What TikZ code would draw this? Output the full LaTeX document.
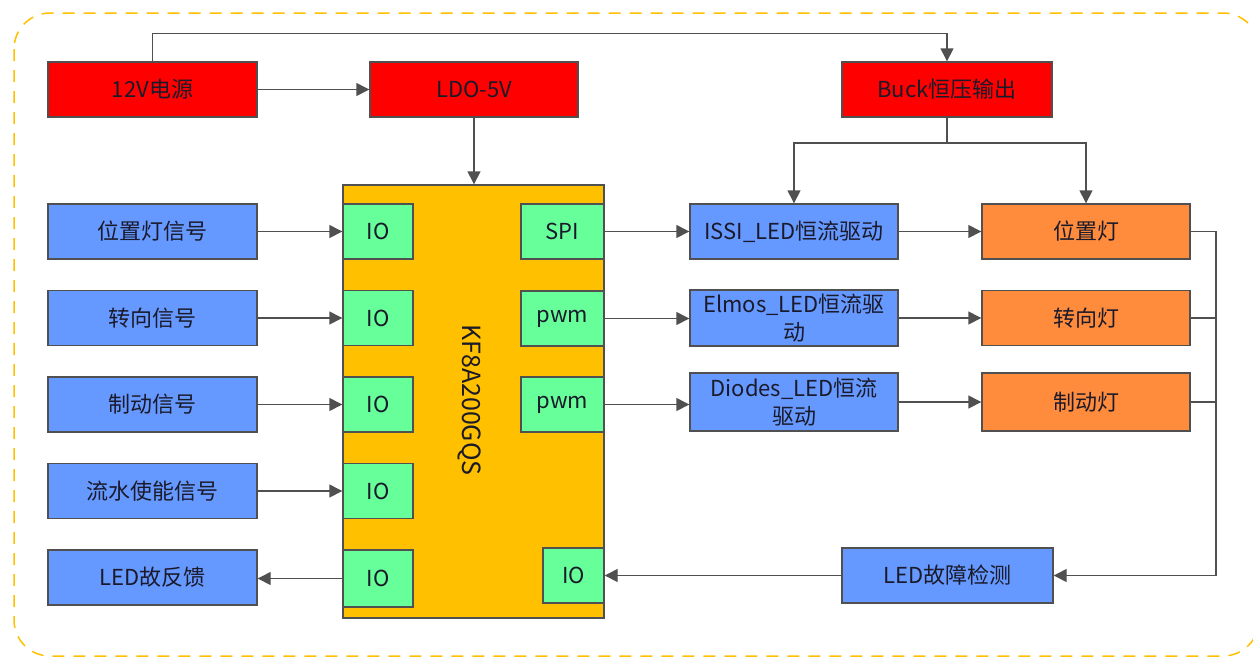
\documentclass[tikz,border=0pt]{standalone}
\usepackage{fontspec}
\setmainfont{Noto Sans CJK SC}
\usetikzlibrary{arrows.meta}
\definecolor{cred}{HTML}{FF0000}
\definecolor{cblue}{HTML}{6699FF}
\definecolor{corange}{HTML}{FF8B3D}
\definecolor{cgreen}{HTML}{66FF99}
\definecolor{cmcu}{HTML}{FFC000}
\definecolor{cline}{HTML}{505050}
\definecolor{ctext}{HTML}{1A1A2A}
\tikzset{
  box/.style={draw=cline, line width=1.4pt, inner sep=1pt, align=center, text=ctext, font=\fontsize{22}{28}\selectfont},
  redbox/.style={box, fill=cred, minimum width=209pt, minimum height=55pt},
  bluebox/.style={box, fill=cblue, minimum width=209pt, minimum height=55pt},
  orbox/.style={box, fill=corange, minimum width=208pt, minimum height=55pt},
  iobox/.style={box, fill=cgreen, minimum height=55pt},
  conn/.style={draw=cline, line width=1.4pt},
  arr/.style={conn, -{Triangle[length=13pt,width=13pt]}},
}
\begin{document}
\begin{tikzpicture}[x=1pt,y=-1pt]
\useasboundingbox (0,0) rectangle (1253,657);
\draw[cmcu, line width=1.5pt, dash pattern=on 12pt off 9pt, rounded corners=36pt] (14,13) rectangle (1259,656);

% power
\node[redbox] (v12) at (152.5,89.5) {12V电源};
\node[redbox, minimum width=208pt] (ldo) at (474,89.5) {LDO-5V};
\node[redbox, minimum width=210pt] (buck) at (947,89.5) {Buck恒压输出};

% MCU
\node[box, fill=cmcu, minimum width=261pt, minimum height=433pt] (mcu) at (473.5,401.5) {};
\node[text=ctext, font=\fontsize{25}{28}\selectfont, rotate=-90] (mcul) at (470,400) {KF8A200GQS};

% left inputs
\node[bluebox] (s1) at (152.5,231.5) {位置灯信号};
\node[bluebox] (s2) at (152.5,318) {转向信号};
\node[bluebox] (s3) at (152.5,404.5) {制动信号};
\node[bluebox] (s4) at (152.5,491) {流水使能信号};
\node[bluebox] (s5) at (152.5,577.5) {LED故反馈};

\node[iobox, minimum width=70pt] (i1) at (378,231.5) {IO};
\node[iobox, minimum width=70pt] (i2) at (378,318) {IO};
\node[iobox, minimum width=70pt] (i3) at (378,404.5) {IO};
\node[iobox, minimum width=70pt] (i4) at (378,491) {IO};
\node[iobox, minimum width=70pt, minimum height=57pt] (i5) at (378,578.5) {IO};

\node[iobox, minimum width=83pt] (o1) at (562.5,231.5) {SPI};
\node[iobox, minimum width=83pt] (o2) at (562.5,318.5) {pwm};
\node[iobox, minimum width=83pt] (o3) at (562.5,404.5) {pwm};
\node[iobox, minimum width=61pt] (o4) at (573.5,575.5) {IO};

% drivers
\node[bluebox, minimum width=208pt] (d1) at (794,231.5) {ISSI\_LED恒流驱动};
\node[bluebox, minimum width=208pt, minimum height=56pt] (d2) at (794,318) {Elmos\_LED恒流驱\\动};
\node[bluebox, minimum width=208pt, minimum height=58pt] (d3) at (794,402) {Diodes\_LED恒流\\驱动};

% lamps
\node[orbox] (l1) at (1086,231.5) {位置灯};
\node[orbox] (l2) at (1086,318) {转向灯};
\node[orbox, minimum height=58pt] (l3) at (1086,402) {制动灯};

\node[bluebox, minimum width=211pt] (fd) at (947.5,575.5) {LED故障检测};

% connectors
\draw[arr] (v12.east) -- (ldo.west);
\draw[arr] (v12.north) -- ++(0,-28) -| (buck.north);
\draw[arr] (ldo.south) -- (ldo.south |- mcu.north);
\coordinate (bj) at (947,143);
\draw[conn] (buck.south) -- (bj);
\draw[arr] (bj) -| (d1.north);
\draw[arr] (bj) -| (l1.north);

\draw[arr] (s1.east) -- (i1.west);
\draw[arr] (s2.east) -- (i2.west);
\draw[arr] (s3.east) -- (i3.west);
\draw[arr] (s4.east) -- (i4.west);
\draw[arr] (i5.west) -- (i5.west -| s5.east);

\draw[arr] (o1.east) -- (o1.east -| d1.west);
\draw[arr] (o2.east) -- (o2.east -| d2.west);
\draw[arr] (o3.east) -- (o3.east -| d3.west);

\draw[arr] (d1.east) -- (l1.west);
\draw[arr] (d2.east) -- (l2.west);
\draw[arr] (d3.east) -- (l3.west);

\coordinate (bus) at (1216,575.5);
\draw[arr] (l1.east) -| (bus) -- (fd.east);
\draw[conn] (l2.east) -- (l2.east -| bus);
\draw[conn] (l3.east) -- (l3.east -| bus);

\draw[arr] (fd.west) -- (o4.east);
\end{tikzpicture}
\end{document}
